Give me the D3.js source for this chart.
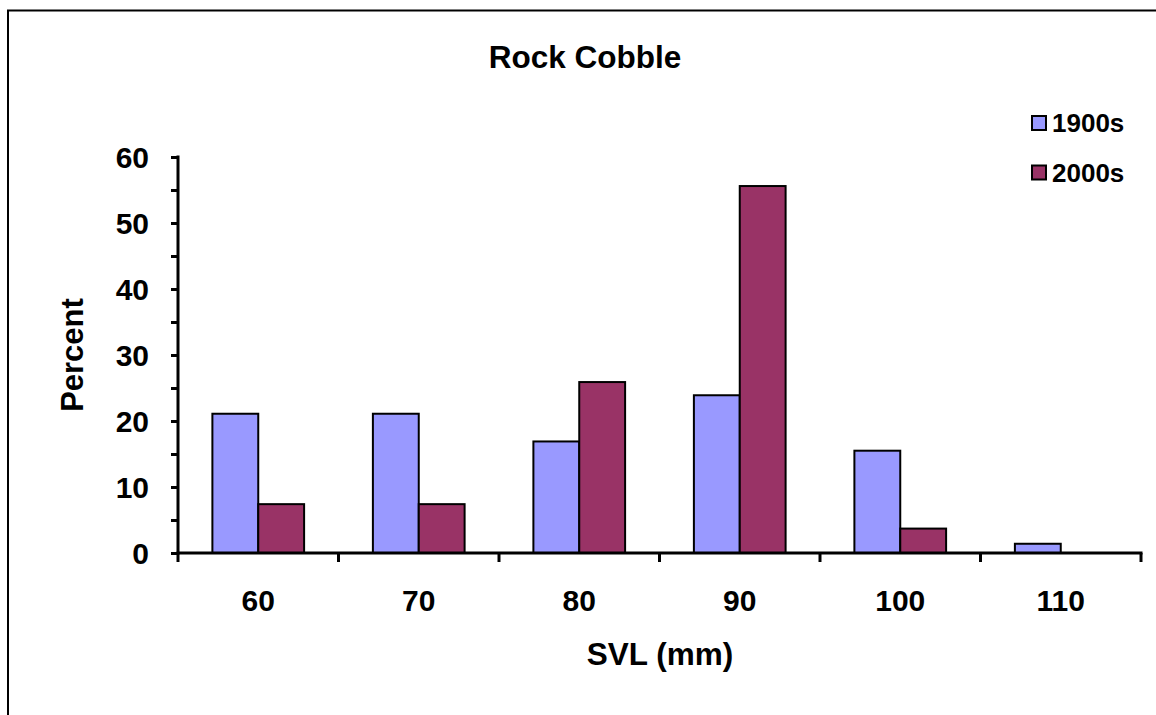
<!DOCTYPE html>
<html lang="en">
<head>
<meta charset="UTF-8">
<title>Rock Cobble</title>
<script src="https://cdn.jsdelivr.net/npm/d3@7"></script>
<style>
    body { margin: 0; background: #fff; }
    text { font-family: Arial, "Liberation Sans", sans-serif; font-weight: bold; fill: #000; }
</style>
</head>
<body>
<div class="container"></div>
<script>
    // data
    const categories = ["60", "70", "80", "90", "100", "110"]
    const seriesNames = ["1900s", "2000s"]
    const values1900s = [21.1, 21.1, 16.9, 23.9, 15.5, 1.4]
    const values2000s = [7.4, 7.4, 25.9, 55.6, 3.7, 0]
    const yTicks = [0, 10, 20, 30, 40, 50, 60]
    const colors = ["#9999ff", "#993366"]

    const W = 1156, H = 715
    const plotLeft = 178, plotRight = 1141, plotTop = 157, plotBottom = 553

    const svg = d3.select('.container').append('svg')
        .attr('width', W).attr('height', H)

    // outer chart border (only left/top visible in frame)
    svg.append('rect')
        .attr('x', 8).attr('y', 10.5)
        .attr('width', W + 20).attr('height', H + 20)
        .attr('fill', 'none').attr('stroke', '#000').attr('stroke-width', 2)

    const x = d3.scaleBand().domain(categories).range([plotLeft, plotRight])
    const xs = d3.scaleBand().domain(seriesNames).range([0, x.bandwidth()])
        .paddingOuter(0.75).paddingInner(0)
    const y = d3.scaleLinear().domain([0, 60]).range([plotBottom, plotTop])

    const rows = categories.map((c, i) => ({cat: c, vals: [values1900s[i], values2000s[i]]}))

    // bars
    svg.append('g').selectAll('g')
        .data(rows)
        .join('g')
        .attr('transform', d => `translate(${x(d.cat)},0)`)
        .selectAll('rect')
        .data(d => d.vals.map((v, j) => ({v, name: seriesNames[j], j})).filter(d => d.v > 0))
        .join('rect')
        .attr('x', d => xs(d.name))
        .attr('y', d => y(d.v))
        .attr('width', xs.bandwidth())
        .attr('height', d => y(0) - y(d.v))
        .attr('fill', d => colors[d.j])
        .attr('stroke', '#000').attr('stroke-width', 2)

    // y axis
    const yAxis = svg.append('g').attr('transform', `translate(${plotLeft},0)`)
    yAxis.call(d3.axisLeft(y).tickValues(d3.range(0, 61, 5)).tickSize(7).tickFormat(''))
    yAxis.select('.domain').attr('stroke-width', 3).attr('d', `M0,${plotTop - 1.5}V${plotBottom + 1.5}`)
    yAxis.selectAll('.tick line').attr('stroke-width', 3)
    yAxis.selectAll('.ylab')
        .data(yTicks)
        .join('text')
        .attr('class', 'ylab')
        .attr('x', -29)
        .attr('y', d => y(d))
        .attr('dy', '0.36em')
        .attr('text-anchor', 'end')
        .style('font-size', '30px')
        .text(d => d)

    // x axis
    const xAxis = svg.append('g').attr('transform', `translate(0,${plotBottom})`)
    xAxis.append('line')
        .attr('x1', plotLeft - 1.5).attr('x2', plotRight + 1.5)
        .attr('stroke', '#000').attr('stroke-width', 3)
    const boundaries = categories.map(c => x(c)).concat([plotRight])
    xAxis.selectAll('.xt')
        .data(boundaries)
        .join('line')
        .attr('class', 'xt')
        .attr('x1', d => d).attr('x2', d => d)
        .attr('y1', 0).attr('y2', 9)
        .attr('stroke', '#000').attr('stroke-width', 3)
    xAxis.selectAll('.xlab')
        .data(categories)
        .join('text')
        .attr('class', 'xlab')
        .attr('x', d => x(d) + x.bandwidth() / 2)
        .attr('y', 58)
        .attr('text-anchor', 'middle')
        .style('font-size', '30px')
        .text(d => d)

    // titles
    svg.append('text')
        .attr('x', 585).attr('y', 68)
        .attr('text-anchor', 'middle')
        .style('font-size', '31.5px')
        .text('Rock Cobble')
    svg.append('text')
        .attr('x', 660).attr('y', 665)
        .attr('text-anchor', 'middle')
        .style('font-size', '31.5px')
        .text('SVL (mm)')
    svg.append('text')
        .attr('transform', `translate(83,355)rotate(-90)`)
        .attr('text-anchor', 'middle')
        .style('font-size', '31px')
        .text('Percent')

    // legend
    const legend = svg.append('g').attr('transform', 'translate(1032,116)')
    const items = legend.selectAll('g')
        .data(seriesNames)
        .join('g')
        .attr('transform', (d, i) => `translate(0,${i * 49.5})`)
    items.append('rect')
        .attr('width', 14).attr('height', 14)
        .attr('fill', (d, i) => colors[i])
        .attr('stroke', '#000').attr('stroke-width', 2)
    items.append('text')
        .attr('x', 20).attr('y', 7)
        .attr('dy', '0.36em')
        .style('font-size', '26px')
        .text(d => d)
</script>
</body>
</html>
